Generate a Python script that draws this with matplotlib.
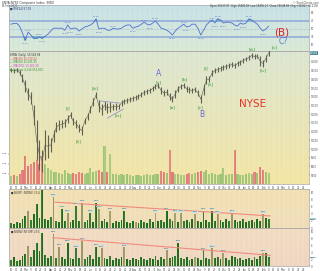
import matplotlib
matplotlib.use("Agg")
import matplotlib.pyplot as plt
from matplotlib.colors import to_rgb
import numpy as np
import pandas as pd

# 4-day sampled bars, Feb 2020 - Feb 2021
dates = pd.date_range("2020-02-10", periods=92, freq="4D")

price_hi = [14650, 14600, 14650, 14540, 14310, 13960, 13510, 13280, 12530, 11670,
            10520, 9950, 11100, 10810, 10640, 11100, 11550, 11670, 11670, 11730,
            11960, 12130, 11780, 11670, 11440, 11320, 11780, 12070, 12470, 12930,
            13280, 12820, 12590, 12760, 12640, 12700, 12590, 12640, 12590, 12820,
            12870, 12930, 12990, 13050, 13100, 13160, 13280, 13390, 13450, 13510,
            13620, 13740, 13790, 13560, 13390, 13450, 13220, 13050, 13390, 13620,
            13740, 13790, 13620, 13560, 13510, 13560, 13390, 13100, 13740, 14190,
            14190, 14540, 14650, 14710, 14770, 14830, 14880, 14940, 15000, 14940,
            15060, 15110, 15230, 15290, 15400, 15510, 15460, 15460, 15340, 15110,
            15400, 15690]
price_lo = [14420, 14370, 14420, 14250, 13850, 13280, 12820, 12590, 11380, 9370,
            8800, 8680, 9370, 9490, 9830, 10410, 10980, 11100, 11210, 11270,
            11500, 11780, 11380, 11210, 10980, 10810, 11440, 11670, 12070, 12470,
            12930, 12130, 11960, 12240, 12070, 12130, 12240, 12240, 12300, 12470,
            12590, 12640, 12700, 12760, 12820, 12870, 12990, 13100, 13160, 13220,
            13330, 13450, 13510, 13160, 13050, 13100, 12820, 12700, 12930, 13280,
            13450, 13510, 13280, 13220, 13220, 13280, 13050, 12640, 13100, 13740,
            13850, 14190, 14370, 14420, 14480, 14540, 14600, 14650, 14710, 14650,
            14770, 14830, 14940, 15060, 15110, 15230, 15170, 15230, 14770, 14710,
            15000, 15340]
volume = [2400, 2700, 2400, 3000, 4200, 8400, 5400, 6000, 6600, 7200,
          6000, 8400, 6000, 4800, 4200, 3600, 3600, 3300, 3000, 4200,
          3300, 3000, 3300, 3000, 3600, 3300, 3000, 3300, 4800, 3600,
          3900, 4200, 3600, 11400, 3600, 9000, 3000, 3000, 2700, 3000,
          2700, 3000, 2700, 2400, 2700, 2700, 2400, 2700, 3000, 2700,
          2700, 3000, 3000, 3900, 3600, 3300, 10200, 3600, 3000, 3000,
          2700, 2700, 3000, 3300, 3000, 3300, 3600, 3900, 3600, 4200,
          3000, 3300, 3000, 2700, 3000, 4800, 2700, 3000, 3000, 10200,
          3000, 2700, 2700, 3000, 3300, 3000, 3600, 3300, 5100, 4200,
          3600, 3300]
rsi = [62, 64, 64, 57, 40, 22, 42, 35, 27, 27,
       30, 27, 32, 37, 45, 52, 52, 52, 52, 47,
       60, 50, 52, 52, 45, 50, 55, 57, 60, 65,
       75, 50, 52, 52, 47, 47, 52, 50, 50, 52,
       57, 60, 60, 52, 55, 57, 62, 67, 62, 60,
       65, 70, 62, 52, 50, 47, 42, 35, 45, 52,
       57, 62, 55, 57, 62, 62, 52, 35, 47, 60,
       67, 72, 65, 75, 72, 65, 67, 67, 65, 60,
       57, 65, 62, 65, 75, 72, 67, 62, 52, 45,
       50, 57]
ratio_up = [1.4, 1.1, 1.7, 1.4, 2.5, 3.4, 4.8, 2.3, 3.9, 6.8,
            2.8, 10.7, 2.5, 2.3, 3.1, 8.7, 2.0, 1.7, 5.4, 2.0,
            4.2, 1.7, 2.3, 6.2, 2.0, 7.1, 1.7, 2.3, 4.2, 1.7,
            7.1, 5.4, 2.0, 2.5, 1.7, 4.8, 1.4, 2.0, 1.7, 2.3,
            4.8, 1.7, 1.4, 2.0, 1.7, 1.4, 2.3, 1.7, 1.4, 2.5,
            1.7, 4.2, 2.0, 2.3, 1.7, 4.8, 2.5, 2.0, 4.2, 1.7,
            4.2, 2.0, 2.3, 1.7, 2.5, 3.9, 2.0, 1.7, 4.8, 2.3,
            1.7, 4.8, 2.0, 3.9, 2.3, 1.7, 2.5, 2.0, 4.2, 2.3,
            1.7, 2.0, 2.5, 1.7, 2.0, 2.3, 1.7, 2.5, 2.0, 3.9,
            2.8, 2.5]
ratio_dn = [1.7, 2.5, 1.4, 1.7, 2.8, 3.4, 5.9, 2.5, 4.5, 6.8,
            4.2, 9.6, 3.1, 2.3, 2.8, 9.3, 2.3, 5.6, 2.5, 2.0,
            6.8, 2.3, 2.0, 5.1, 2.3, 7.3, 2.0, 2.5, 3.1, 2.0,
            5.6, 2.5, 5.1, 2.3, 2.0, 2.8, 1.7, 2.3, 2.0, 2.5,
            5.4, 2.0, 1.7, 2.3, 2.0, 1.7, 2.5, 2.0, 1.7, 2.3,
            2.0, 2.8, 1.7, 2.5, 2.0, 4.5, 2.3, 2.5, 2.8, 6.8,
            2.3, 2.0, 2.5, 1.7, 2.0, 2.5, 2.3, 1.7, 4.5, 2.3,
            2.0, 5.1, 2.3, 2.5, 2.0, 3.9, 2.3, 1.7, 2.8, 2.5,
            2.0, 2.3, 1.7, 2.0, 2.3, 1.7, 2.5, 2.0, 2.8, 3.9,
            3.7, 2.5]
olive_up = [6, 15, 20, 25, 31, 35, 44, 51, 58, 60, 65, 73, 78, 89]
olive_dn = [6, 15, 17, 25, 32, 40, 55, 65, 71, 75, 89]

W, H = 320, 271
fig = plt.figure(figsize=(W / 100, H / 100), dpi=100)
FS = 1.9


def px_axes(x0, y0, x1, y1, top, bot):
    rect = [x0 / W, 1 - y1 / H, (x1 - x0) / W, (y1 - y0) / H]
    bg = fig.add_axes(rect, zorder=0)
    t = np.linspace(0, 1, 64)[:, None, None]
    img = (1 - t) * np.array(to_rgb(top)) + t * np.array(to_rgb(bot))
    bg.imshow(img, extent=[0, 1, 0, 1], aspect="auto")
    bg.axis("off")
    ax = fig.add_axes(rect, zorder=1)
    ax.set_facecolor("none")
    for s in ax.spines.values():
        s.set_color("#a8a8a8")
        s.set_linewidth(0.5)
    ax.tick_params(labelsize=FS, length=1, width=0.3, pad=0.4, colors="#555555")
    return ax


x_min = pd.Timestamp("2020-02-07")
x_max = pd.Timestamp("2021-04-06")
mondays = pd.date_range("2020-02-10", "2021-03-29", freq="W-MON")
week_lbl = [d.strftime("%b") if d.day <= 7 else str(d.day) for d in mondays]


def date_axis(ax, labels):
    ax.set_xlim(x_min, x_max)
    ax.set_xticks(mondays)
    ax.set_xticklabels(week_lbl if labels else [])
    ax.grid(True, axis="x", color="#ffffff", lw=0.3, alpha=0.5)


# --- RSI panel ---
ax_r = px_axes(9, 5, 309, 51, "#c6e0e6", "#d8e9d4")
date_axis(ax_r, False)
ax_r.set_ylim(-5, 110)
ax_r.yaxis.tick_right()
ax_r.set_yticks([10, 30, 50, 70, 90])
for lvl in (70, 30):
    ax_r.axhline(lvl, color="#8fa8d8", lw=1.1)
ax_r.axhline(50, color="#b0bcd0", lw=0.4, ls="--")
ax_r.plot(dates, rsi, color="#4f70d0", lw=0.6)
r = np.array(rsi, dtype=float)
ax_r.fill_between(dates, r, 30, where=r < 30, color="#2aa6a0", interpolate=True)
ax_r.fill_between(dates, r, 70, where=r > 70, color="#2aa6a0", alpha=0.6, interpolate=True)
for i in range(1, len(rsi) - 1):
    if rsi[i] > max(rsi[i - 1], rsi[i + 1]):
        ax_r.text(dates[i], rsi[i] + 4, f"{rsi[i]:.2f}", fontsize=1.7, color="#4f70d0", ha="center")
    elif rsi[i] < min(rsi[i - 1], rsi[i + 1]):
        ax_r.text(dates[i], rsi[i] - 9, f"{rsi[i]:.2f}", fontsize=1.7, color="#4f70d0", ha="center")
ax_r.text(0.005, 0.97, "\u25a0 RSI(14) 57.19", transform=ax_r.transAxes, fontsize=FS,
          color="#333366", va="top")

# --- price + volume panel ---
ax_v = px_axes(9, 51, 309, 184, "#dbe6d0", "#f3e4a2")
date_axis(ax_v, True)
ax_v.set_ylim(0, 39900)
ax_v.set_yticks([3000, 6000, 9000])
ax_v.set_yticklabels(["3.0B", "6.0B", "9.0B"])
ax_v.tick_params(axis="y", labelsize=1.7, pad=0.3)
up = [True] + [price_lo[i] >= price_lo[i - 1] for i in range(1, len(price_lo))]
vcol = ["#9fc474" if u else "#e27c78" for u in up]
ax_v.bar(dates, volume, width=3.0, color=vcol)

ax_p = ax_v.twinx()
ax_p.set_xlim(x_min, x_max)
ax_p.set_ylim(7995, 15630)
ax_p.set_yticks(range(8500, 15001, 500))
ax_p.tick_params(labelsize=1.8, length=1, width=0.3, pad=0.4, colors="#555555")
for s in ax_p.spines.values():
    s.set_visible(False)
mid = [(h + l) / 2 for h, l in zip(price_hi, price_lo)]
ax_p.vlines(dates, price_lo, price_hi, color="#5f5f52", lw=0.8)
ax_p.plot(dates, mid, color="#5f5f52", lw=0.4)

# triangle lines
ax_p.plot(pd.to_datetime(["2020-06-15", "2020-07-13"]), [12760, 12640], color="#8888dd", lw=0.5)
ax_p.plot(pd.to_datetime(["2020-06-25", "2020-07-18"]), [11780, 12300], color="#8888dd", lw=0.5)

wave_lbls = [
    ("2020-05-01", 12360, "[i]"), ("2020-05-16", 10460, "[ii]"), ("2020-06-08", 13510, "[iii]"),
    ("2020-07-11", 11960, "[iv]"), ("2020-09-05", 13850, "[v]"), ("2020-09-25", 12420, "[a]"),
    ("2020-10-13", 14020, "[b]"), ("2020-11-04", 12420, "[c]"), ("2020-11-12", 14650, "[i]"),
    ("2020-11-18", 13740, "[ii]"), ("2021-01-16", 15740, "[iii]"), ("2021-02-01", 14540, "[iv]"),
    ("2021-02-16", 15860, "[v]"),
]
for d, p, t in wave_lbls:
    ax_p.text(pd.Timestamp(d), p, t, fontsize=3.2, color="#3d9a3d", ha="center", va="center")
ax_p.text(pd.Timestamp("2020-09-05"), 14310, "A", fontsize=5.5, color="#6a6ad8", ha="center", va="center")
ax_p.text(pd.Timestamp("2020-11-05"), 12010, "B", fontsize=5.5, color="#6a6ad8", ha="center", va="center")
ax_p.text(pd.Timestamp("2021-02-26"), 16720, "(B)", fontsize=7.5, color="#e02222", ha="center", va="center")
ax_p.text(pd.Timestamp("2021-02-28"), 16200, "C?", fontsize=5.5, color="#5577dd", ha="center", va="center")
ax_p.text(pd.Timestamp("2021-01-16"), 12600, "NYSE", fontsize=7.5, color="#e8332a", ha="center", va="center")

leg = [("$NYA (Daily) 15,548.99", "#333333"), ("\u2014 MA(20) 15,370.12", "#d04040"),
       ("\u2014 MA(50) 15,031.55", "#3a8a3a"), ("\u2014 MA(200) 13,180.30", "#cc44cc"),
       ("\u25a0 Volume 4,216,551,000", "#3a8a3a")]
for k, (t, c) in enumerate(leg):
    ax_p.text(0.005, 0.985 - k * 0.028, t, transform=ax_p.transAxes, fontsize=FS, color=c, va="top")
ax_p.text(1.003, 0.985, "15548", transform=ax_p.transAxes, fontsize=1.8, color="white",
          va="center", bbox=dict(boxstyle="square,pad=0.15", fc="#4a8a9a", ec="none"))


# --- breadth panels ---
def breadth(ax, vals, olive, legend, p0, p1, labels):
    date_axis(ax, labels)
    ax.set_ylim(0, 11)
    ax.yaxis.tick_right()
    ax.set_yticks(range(0, 11, 2))
    cols = ["#9a9a62" if i in olive else "#1e6e1e" for i in range(len(vals))]
    ax.bar(dates, vals, width=2.6, color=cols)
    ax.plot(pd.to_datetime([p0[0], p1[0]]), [p0[1], p1[1]], color="#f08a80", lw=0.8)
    for i, v in enumerate(vals):
        if v >= 3.9 and i > 12:
            ax.text(dates[i], min(v + 0.5, 10.0), f"{v:.2f}", fontsize=1.6, color="#333333", ha="center",
                    bbox=dict(boxstyle="square,pad=0.1", fc="#bfe0e8", ec="none"))
    ax.text(0.005, 0.97, legend, transform=ax.transAxes, fontsize=1.8, color="#333333", va="top")
    ax.text(1.004, vals[-1] / 11, f"{vals[-1]:.2f}", transform=ax.transAxes, fontsize=1.7,
            color="#333333", va="center", bbox=dict(boxstyle="square,pad=0.1", fc="#9fd0d8", ec="none"))


ax_3 = px_axes(9, 189, 309, 228, "#f2e0b2", "#f0ddb8")
ax_4 = px_axes(9, 228, 309, 266, "#f2dcc0", "#efd5c0")
breadth(ax_3, ratio_up, olive_up, "\u25a0 $NYUPV:$NYDNV 2.54", ("2020-04-12", 7.3), ("2021-02-10", 3.4), False)
breadth(ax_4, ratio_dn, olive_dn, "\u25a0 $NYDNV:$NYUPV 2.55", ("2020-04-09", 8.2), ("2021-02-10", 3.1), True)

fig.text(0.005, 0.997, "$NYA NYSE Composite Index  INDX", fontsize=2.2, va="top", color="#333333")
fig.text(0.005, 0.986, "19-Feb-2021", fontsize=1.9, va="top", color="#555555")
fig.text(0.995, 0.997, "\u00a9 StockCharts.com", fontsize=1.9, va="top", ha="right", color="#555555")
fig.text(0.995, 0.986, "Open 15537.07  High 15600.09  Low 15495.27  Close 15548.99  Chg +16.82 (+0.11%)",
         fontsize=1.8, va="top", ha="right", color="#333333")

fig.savefig("out.png", dpi=100)
